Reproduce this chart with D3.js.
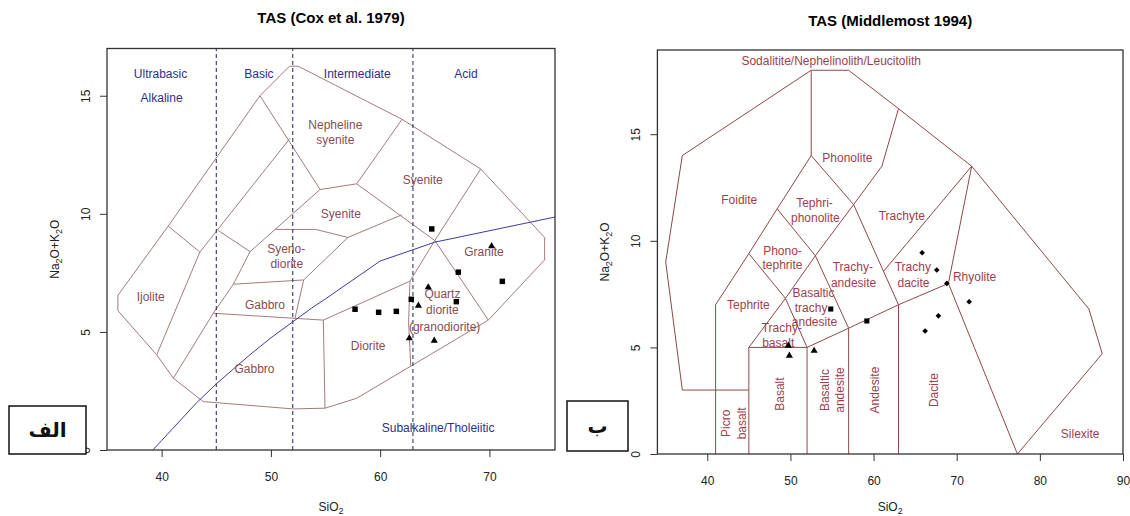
<!DOCTYPE html>
<html>
<head>
<meta charset="utf-8">
<script src="https://cdn.jsdelivr.net/npm/d3@7"></script>
<style>
body { margin: 0; background: #fff; }
text { font-family: "Liberation Sans", Arial, sans-serif; }
</style>
</head>
<body>
<svg id="chart" width="1130" height="516"></svg>
<script>
// ---- Cox et al. 1979 (plutonic) ----
var coxOuter = [[36,5.9],[36,6.55],[40.6,9.48],[49,15],[51.7,16.25],[52.5,16.25],[62,14],[69.2,11.9],[75.05,9],[75.05,8.05],[69.9,5.5],[62.8,3.55],[57.85,2.19],[54.95,1.77],[52,1.74],[43.81,2.05],[41.07,3.04],[39.55,4.03],[36,5.9]];
var coxLines = [
    [[40.6,9.48],[43.5,8.38],[39.55,4.03]],
    [[49,15],[54.5,11.03]],
    [[51.75,13.2],[43.5,8.38]],
    [[54.5,11.03],[57.85,11.27],[62,14]],
    [[57.85,11.27],[65,8.87]],
    [[54.5,11.03],[48.1,8.4],[46.56,7.02],[44.73,5.79],[41.07,3.04]],
    [[45.19,9.29],[48.1,8.4]],
    [[50.4,9.34],[54.1,9.34],[57.05,9.0],[62,9.96]],
    [[57.05,9.0],[53,7.2],[46.56,7.02]],
    [[53,7.2],[52.2,5.57]],
    [[44.73,5.79],[54.8,5.5],[62.73,7.15],[65,8.87]],
    [[54.8,5.5],[54.95,1.77]],
    [[62.73,7.15],[62.6,5.4],[62.8,3.55]],
    [[65,8.87],[69.2,11.9]],
    [[65,8.87],[69.9,5.5]]
];
// alkaline / subalkaline divider
var ibSiO2 = [39.2,40,43.2,45,48,50,53.7,55,60,65,77.4];
var ibAlk = [0,0.4,2,2.8,4,4.75,6,6.4,8,8.8,10];
var silicaBounds = [45, 52, 63];
var coxGroups = [
    ["Ultrabasic", 39.9, 15.92], ["Alkaline", 40.0, 14.93], ["Basic", 48.9, 15.92],
    ["Intermediate", 57.9, 15.92], ["Acid", 67.85, 15.92], ["Subalkaline/Tholeiitic", 65.3, 0.94]
];
var coxNames = [
    ["Nepheline", 55.9, 13.76], ["syenite", 55.9, 13.12], ["Syenite", 63.9, 11.46],
    ["Syenite", 56.4, 9.98], ["Syeno-", 51.4, 8.54], ["diorite", 51.45, 7.9],
    ["Granite", 69.5, 8.4], ["Ijolite", 39.0, 6.49], ["Gabbro", 49.46, 6.14],
    ["Gabbro", 48.5, 3.42], ["Diorite", 58.9, 4.42], ["Quartz", 65.7, 6.6],
    ["diorite", 65.7, 5.92], ["(granodiorite)", 65.9, 5.23]
];
var coxSquares = [[64.72,9.36],[67.15,7.53],[71.18,7.14],[57.7,5.96],[59.86,5.83],[61.48,5.87],[62.85,6.38],[66.97,6.28]];
var coxTriangles = [[70.2,8.63],[64.4,6.89],[63.5,6.11],[62.67,4.73],[64.95,4.63]];

// ---- Middlemost 1994 ----
var midOuter = [[45,3],[37,3],[35,9],[37,14],[52.5,18],[57,18],[63,16.2],[71.8,13.5],[85.9,6.8],[87.5,4.7],[77.3,0]];
var midLines = [
    [[41,0],[41,7],[45,9.4],[48.4,11.5],[52.5,14],[52.5,18]],
    [[45,0],[45,5],[49.4,7.3],[53,9.3],[57.6,11.7],[61,13.5],[63,16.2]],
    [[52,0],[52,5],[57,5.9],[63,7],[69,8],[71.8,13.5]],
    [[45,5],[52,5]],
    [[45,9.4],[49.4,7.3],[52,5]],
    [[48.4,11.5],[53,9.3],[57,5.9],[57,0]],
    [[52.5,14],[57.6,11.7],[63,7],[63,0]],
    [[61.2,8.57],[71.8,13.5]],
    [[69,8],[77.3,0]]
];
var midNames = [
    ["Sodalitite/Nephelinolith/Leucitolith", 54.9, 18.43], ["Phonolite", 56.85, 13.9],
    ["Foidite", 43.85, 11.91], ["Tephri-", 52.9, 11.76], ["phonolite", 53.0, 11.06],
    ["Trachyte", 63.4, 11.16], ["Phono-", 49.05, 9.54], ["tephrite", 49.05, 8.86],
    ["Trachy-", 57.5, 8.76], ["andesite", 57.6, 8.05], ["Trachy", 64.72, 8.76],
    ["dacite", 64.8, 8.05], ["Rhyolite", 72.15, 8.29], ["Tephrite", 44.95, 6.99],
    ["Basaltic", 52.78, 7.58], ["trachy", 52.48, 6.88], ["andesite", 52.9, 6.21],
    ["Trachy-", 48.97, 5.9], ["basalt", 48.53, 5.22], ["Silexite", 84.85, 0.97]
];
var midNamesVertical = [
    ["Picro", 42.19, 1.44], ["basalt", 44.15, 1.44], ["Basalt", 48.75, 2.81],
    ["Basaltic", 54.09, 3.0], ["andesite", 55.97, 3.0], ["Andesite", 60.12, 3.0],
    ["Dacite", 67.22, 3.0]
];
var midDiamonds = [[65.84,9.44],[67.6,8.63],[68.81,8.0],[71.5,7.14],[67.8,6.48],[66.2,5.77]];
var midSquares = [[59.19,6.24],[54.85,6.8]];
var midTriangles = [[49.75,5.08],[49.87,4.61],[52.85,4.84]];

var xTicksCox = [40, 50, 60, 70];
var xTicksMid = [40, 50, 60, 70, 80, 90];
var yTicks = [0, 5, 10, 15];

var svg = d3.select("#chart");

var xL = d3.scaleLinear().domain([35, 76]).range([107, 555]);
var yL = d3.scaleLinear().domain([0, 17]).range([450, 48.5]);
var xR = d3.scaleLinear().domain([34, 90]).range([657.4, 1123]);
var yR = d3.scaleLinear().domain([0, 18.95]).range([454, 50]);

function axes(x, y, xTicks, title, titleY) {
    var g = svg.append("g");
    var xa = g.append("g")
        .attr("transform", "translate(0," + y.range()[0] + ")")
        .call(d3.axisBottom(x).tickValues(xTicks).tickSize(7).tickPadding(15));
    var ya = g.append("g")
        .attr("transform", "translate(" + x.range()[0] + ",0)")
        .call(d3.axisLeft(y).tickValues(yTicks).tickSize(7));
    [xa, ya].forEach(function(a) {
        a.select(".domain").remove();
        a.selectAll("line").attr("stroke", "#333");
        a.selectAll("text").style("font-size", "12px").attr("fill", "#222")
            .style("font-family", "'Liberation Sans', Arial, sans-serif");
    });
    //rotate the y tick labels like R does
    ya.selectAll("text")
        .attr("x", 0).attr("dy", 0)
        .attr("text-anchor", "middle")
        .attr("transform", "translate(-17,0) rotate(-90)");

    var cx = (x.range()[0] + x.range()[1]) / 2;
    g.append("rect")
        .attr("x", x.range()[0]).attr("y", y.range()[1])
        .attr("width", x.range()[1] - x.range()[0])
        .attr("height", y.range()[0] - y.range()[1])
        .attr("fill", "none").attr("stroke", "#333").attr("stroke-width", 1.3);

    g.append("text").text(title)
        .attr("x", cx).attr("y", titleY)
        .attr("text-anchor", "middle")
        .style("font-size", "15px").style("font-weight", "bold");

    var xl = g.append("text").attr("x", cx).attr("y", 511)
        .attr("text-anchor", "middle").style("font-size", "12px").attr("fill", "#222");
    xl.append("tspan").text("SiO");
    xl.append("tspan").text("2").attr("dy", 3).style("font-size", "9px");

    var cy = (y.range()[0] + y.range()[1]) / 2;
    var yl = g.append("text")
        .attr("transform", "translate(" + (x.range()[0] - 48) + "," + cy + ") rotate(-90)")
        .attr("text-anchor", "middle").style("font-size", "12px").attr("fill", "#222");
    yl.append("tspan").text("Na");
    yl.append("tspan").text("2").attr("dy", 3).style("font-size", "9px");
    yl.append("tspan").text("O+K").attr("dy", -3);
    yl.append("tspan").text("2").attr("dy", 3).style("font-size", "9px");
    yl.append("tspan").text("O").attr("dy", -3);
}

function names(g, list, x, y, color) {
    g.selectAll(null).data(list).enter().append("text")
        .text(function(d) { return d[0]; })
        .attr("x", function(d) { return x(d[1]); })
        .attr("y", function(d) { return y(d[2]); })
        .attr("dy", "0.35em")
        .attr("text-anchor", "middle")
        .attr("fill", color)
        .style("font-size", "12px");
}

function points(g, data, type, size, x, y, angle) {
    g.selectAll(null).data(data).enter().append("path")
        .attr("d", d3.symbol().type(type).size(size))
        .attr("transform", function(d) {
            return "translate(" + x(d[0]) + "," + y(d[1]) + ")" + (angle ? " rotate(" + angle + ")" : "");
        })
        .attr("fill", "#000");
}

// ---------- left panel ----------
var clip = svg.append("defs").append("clipPath").attr("id", "clipL");
clip.append("rect").attr("x", 107).attr("y", 48.5).attr("width", 448).attr("height", 401.5);

var gL = svg.append("g");
var lineL = d3.line().x(function(d) { return xL(d[0]); }).y(function(d) { return yL(d[1]); });
gL.append("path").attr("d", lineL(coxOuter))
    .attr("fill", "none").attr("stroke", "#a07c7c").attr("stroke-width", 1);
gL.selectAll(null).data(coxLines).enter().append("path")
    .attr("d", lineL)
    .attr("fill", "none").attr("stroke", "#a07c7c").attr("stroke-width", 1);

gL.selectAll(null).data(silicaBounds).enter().append("line")
    .attr("x1", function(d) { return xL(d); }).attr("x2", function(d) { return xL(d); })
    .attr("y1", yL(0)).attr("y2", yL(17))
    .attr("stroke", "#23234f").attr("stroke-width", 1).attr("stroke-dasharray", "4,3");

gL.append("path")
    .attr("clip-path", "url(#clipL)")
    .attr("d", lineL(ibSiO2.map(function(v, i) { return [v, ibAlk[i]]; })))
    .attr("fill", "none").attr("stroke", "#3b3ba0").attr("stroke-width", 1);

names(gL, coxGroups, xL, yL, "#2e2e88");
names(gL, coxNames, xL, yL, "#8a4c52");
points(gL, coxSquares, d3.symbolSquare, 30, xL, yL);
points(gL, coxTriangles, d3.symbolTriangle, 22, xL, yL);
axes(xL, yL, xTicksCox, "TAS (Cox et al. 1979)", 23);

// ---------- right panel ----------
var gR = svg.append("g");
var lineR = d3.line().x(function(d) { return xR(d[0]); }).y(function(d) { return yR(d[1]); });
gR.append("path").attr("d", lineR(midOuter))
    .attr("fill", "none").attr("stroke", "#8e4848").attr("stroke-width", 1);
gR.selectAll(null).data(midLines).enter().append("path")
    .attr("d", lineR)
    .attr("fill", "none").attr("stroke", "#8e4848").attr("stroke-width", 1);

names(gR, midNames, xR, yR, "#9e3e4c");
gR.selectAll(null).data(midNamesVertical).enter().append("text")
    .text(function(d) { return d[0]; })
    .attr("transform", function(d) { return "translate(" + xR(d[1]) + "," + yR(d[2]) + ") rotate(-90)"; })
    .attr("dy", "0.35em")
    .attr("text-anchor", "middle")
    .attr("fill", "#9e3e4c")
    .style("font-size", "12px");

points(gR, midDiamonds, d3.symbolSquare, 16, xR, yR, 45);
points(gR, midSquares, d3.symbolSquare, 26, xR, yR);
points(gR, midTriangles, d3.symbolTriangle, 22, xR, yR);
axes(xR, yR, xTicksMid, "TAS (Middlemost 1994)", 26);

// ---------- panel tags ----------
var tags = [["الف", 9, 406, 77, 48], ["ب", 567, 401, 61, 50]];
var tg = svg.selectAll(".tag").data(tags).enter().append("g").attr("class", "tag");
tg.append("rect")
    .attr("x", function(d) { return d[1]; }).attr("y", function(d) { return d[2]; })
    .attr("width", function(d) { return d[3]; }).attr("height", function(d) { return d[4]; })
    .attr("fill", "#fff").attr("stroke", "#111").attr("stroke-width", 1.5);
tg.append("text")
    .text(function(d) { return d[0]; })
    .attr("x", function(d) { return d[1] + d[3] / 2; })
    .attr("y", function(d) { return d[2] + d[4] / 2 + 7; })
    .attr("text-anchor", "middle")
    .style("font-family", "'DejaVu Sans', sans-serif")
    .style("font-weight", "bold")
    .style("font-size", "20px")
    .attr("fill", "#111");
</script>
</body>
</html>
